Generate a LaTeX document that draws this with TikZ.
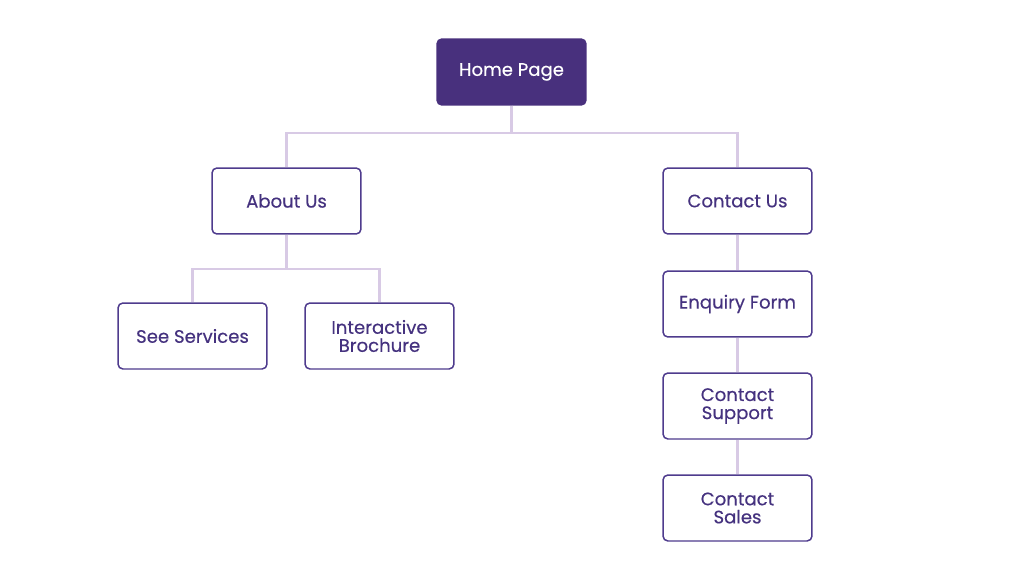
\documentclass[tikz,border=0pt]{standalone}
\usepackage{fontspec}
\setmainfont{Poppins}[FakeBold=0.35]
\usepackage{xcolor}
\definecolor{homefill}{HTML}{48307D}
\definecolor{boxline}{HTML}{4E3B8D}
\definecolor{boxtext}{HTML}{45327F}
\definecolor{linkline}{HTML}{D8CAE5}
\begin{document}
\begin{tikzpicture}[x=0.02cm,y=-0.02cm,
	page/.style={draw=boxline, line width=0.85pt, rounded corners=2.8pt, fill=white,
		text=boxtext, minimum width=2.98cm, minimum height=1.32cm,
		align=center, font=\fontsize{10.3}{10.3}\selectfont},
	homepage/.style={page, fill=homefill, draw=homefill, text=white},
	link/.style={draw=linkline, line width=1.4pt}]
	\useasboundingbox (0,0) rectangle (1024,581);
	\node[homepage] (home) at (511.5,72) {Home Page};
	\node[page] (about) at (286.5,201) {About Us};
	\node[page] (contact) at (737.5,201) {Contact Us};
	\node[page] (services) at (192.5,336) {See Services};
	\node[page] (brochure) at (379.5,336) {Interactive\\Brochure};
	\node[page] (enquiry) at (737.5,304) {Enquiry Form};
	\node[page] (support) at (737.5,406) {Contact\\Support};
	\node[page] (sales) at (737.5,508) {Contact\\Sales};
	% tree links
	\draw[link] (home.south) -- ++(0,27) -| (about.north);
	\draw[link] (home.south) -- ++(0,27) -| (contact.north);
	\draw[link] (about.south) -- ++(0,34) -| (services.north);
	\draw[link] (about.south) -- ++(0,34) -| (brochure.north);
	\draw[link] (contact) -- (enquiry);
	\draw[link] (enquiry) -- (support);
	\draw[link] (support) -- (sales);
\end{tikzpicture}
\end{document}
